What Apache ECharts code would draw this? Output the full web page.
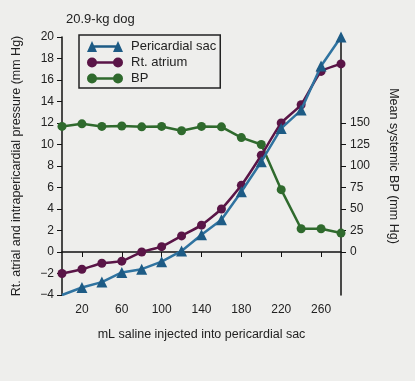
<!DOCTYPE html>
<html><head><meta charset="utf-8">
<script src="https://cdn.jsdelivr.net/npm/echarts@6/dist/echarts.min.js"></script>
<style>html,body{margin:0;padding:0;background:#eeeeec}#c{width:415px;height:381px}</style>
</head><body><div id="c"></div>
<script>
var volumes = [0, 20, 40, 60, 80, 100, 120, 140, 160, 180, 200, 220, 240, 260, 280];
var pericardialSac = [-4, -3.3, -2.8, -1.9, -1.6, -0.9, 0.1, 1.6, 3.0, 5.6, 8.4, 11.5, 13.2, 17.3, 20.0];
var rtAtrium = [-2.0, -1.6, -1.05, -0.85, 0.0, 0.5, 1.5, 2.5, 4.0, 6.2, 9.0, 12.0, 13.7, 16.8, 17.5];
var bp = [146, 149, 146, 146.5, 145.5, 146, 141, 146, 145.5, 133, 125, 72.5, 27, 27, 22];
var xTicks = [20, 60, 100, 140, 180, 220, 260];
var rightTicks = [0, 25, 50, 75, 100, 125, 150];

var FONT = 'Liberation Sans, Arial, sans-serif';
var TXT = '#222';
function pairs(vals, skipFirst) {
  return volumes.map(function (x, i) {
    var d = { value: [x, vals[i]] };
    if (skipFirst && i === 0) d.symbol = 'none';
    return d;
  });
}
var triIcon = 'path://M0,12 L5,1 L10,12 Z M5,5.2 L31,5.2 L31,7.8 L5,7.8 Z M26,12 L31,1 L36,12 Z';
var dotIcon = 'path://M0,6.5 A5,5 0 1,1 10,6.5 A5,5 0 1,1 0,6.5 Z M5,5.2 L31,5.2 L31,7.8 L5,7.8 Z M26,6.5 A5,5 0 1,1 36,6.5 A5,5 0 1,1 26,6.5 Z';

var chart = echarts.init(document.getElementById('c'));
chart.setOption({
  backgroundColor: '#eeeeec',
  animation: false,
  textStyle: { fontFamily: FONT },
  title: { text: '20.9-kg dog', left: 61, top: 8, textStyle: { fontSize: 13, fontWeight: 'normal', color: TXT, fontFamily: FONT } },
  legend: {
    orient: 'vertical', left: 79, top: 35,
    padding: [5, 4, 3, 8], itemGap: 3, itemWidth: 36, itemHeight: 12,
    borderColor: '#222', borderWidth: 1.5,
    textStyle: { fontSize: 13, color: TXT, fontFamily: FONT, padding: [0, 0, 0, 3] },
    data: [
      { name: 'Pericardial sac', icon: triIcon },
      { name: 'Rt. atrium', icon: dotIcon },
      { name: 'BP', icon: dotIcon }
    ]
  },
  grid: { left: 62, right: 74, top: 37, bottom: 86, containLabel: false },
  xAxis: {
    type: 'value', min: 0, max: 280,
    name: 'mL saline injected into pericardial sac', nameLocation: 'middle', nameGap: 33,
    nameTextStyle: { fontSize: 12.5, color: TXT, fontFamily: FONT },
    axisLine: { lineStyle: { color: '#111', width: 1.5 } },
    axisTick: { show: true, length: 5, customValues: xTicks, lineStyle: { color: '#111', width: 1 } },
    axisLabel: { customValues: xTicks, fontSize: 12, color: TXT, margin: 9, fontFamily: FONT },
    splitLine: { show: false }
  },
  yAxis: [{
    type: 'value', min: -4, max: 20, interval: 2,
    name: 'Rt. atrial and intrapericardial pressure (mm Hg)', nameLocation: 'middle', nameGap: 39,
    nameTextStyle: { fontSize: 12.5, color: TXT, fontFamily: FONT },
    axisLine: { show: true, lineStyle: { color: '#111', width: 1.5 } },
    axisTick: { show: true, length: 5, lineStyle: { color: '#111', width: 1 } },
    axisLabel: { fontSize: 12, color: TXT, margin: 8, fontFamily: FONT,
      formatter: function (v) { return v < 0 ? '\u2212' + Math.abs(v) : String(v); } },
    splitLine: { show: false }
  }, {
    type: 'value', position: 'right', min: -50, max: 250, interval: 25,
    name: 'Mean systemic BP (mm Hg)', nameLocation: 'middle', nameGap: 46, nameRotate: -90,
    nameTextStyle: { fontSize: 12.5, color: TXT, fontFamily: FONT },
    axisLine: { show: true, lineStyle: { color: '#111', width: 1.5 } },
    axisTick: { show: true, length: 5, customValues: rightTicks, lineStyle: { color: '#111', width: 1 } },
    axisLabel: { customValues: rightTicks, fontSize: 12, color: TXT, margin: 9, fontFamily: FONT },
    splitLine: { show: false }
  }],
  series: [{
    name: 'Pericardial sac', type: 'line', yAxisIndex: 0,
    data: pairs(pericardialSac, true),
    symbol: 'triangle', symbolSize: 11, color: '#1d5b85',
    lineStyle: { color: '#2f73a0', width: 2.5 },
    itemStyle: { color: '#1d5b85' }, z: 3
  }, {
    name: 'Rt. atrium', type: 'line', yAxisIndex: 0,
    data: pairs(rtAtrium, false), smooth: 0.15,
    symbol: 'circle', symbolSize: 9, color: '#5a1547',
    lineStyle: { color: '#5a1547', width: 2.5 },
    itemStyle: { color: '#5a1547' }, z: 2
  }, {
    name: 'BP', type: 'line', yAxisIndex: 1,
    data: pairs(bp, false),
    symbol: 'circle', symbolSize: 9, color: '#2f6a2d',
    lineStyle: { color: '#2f6a2d', width: 2.5 },
    itemStyle: { color: '#2f6a2d' }, z: 1
  }]
});
</script></body></html>
